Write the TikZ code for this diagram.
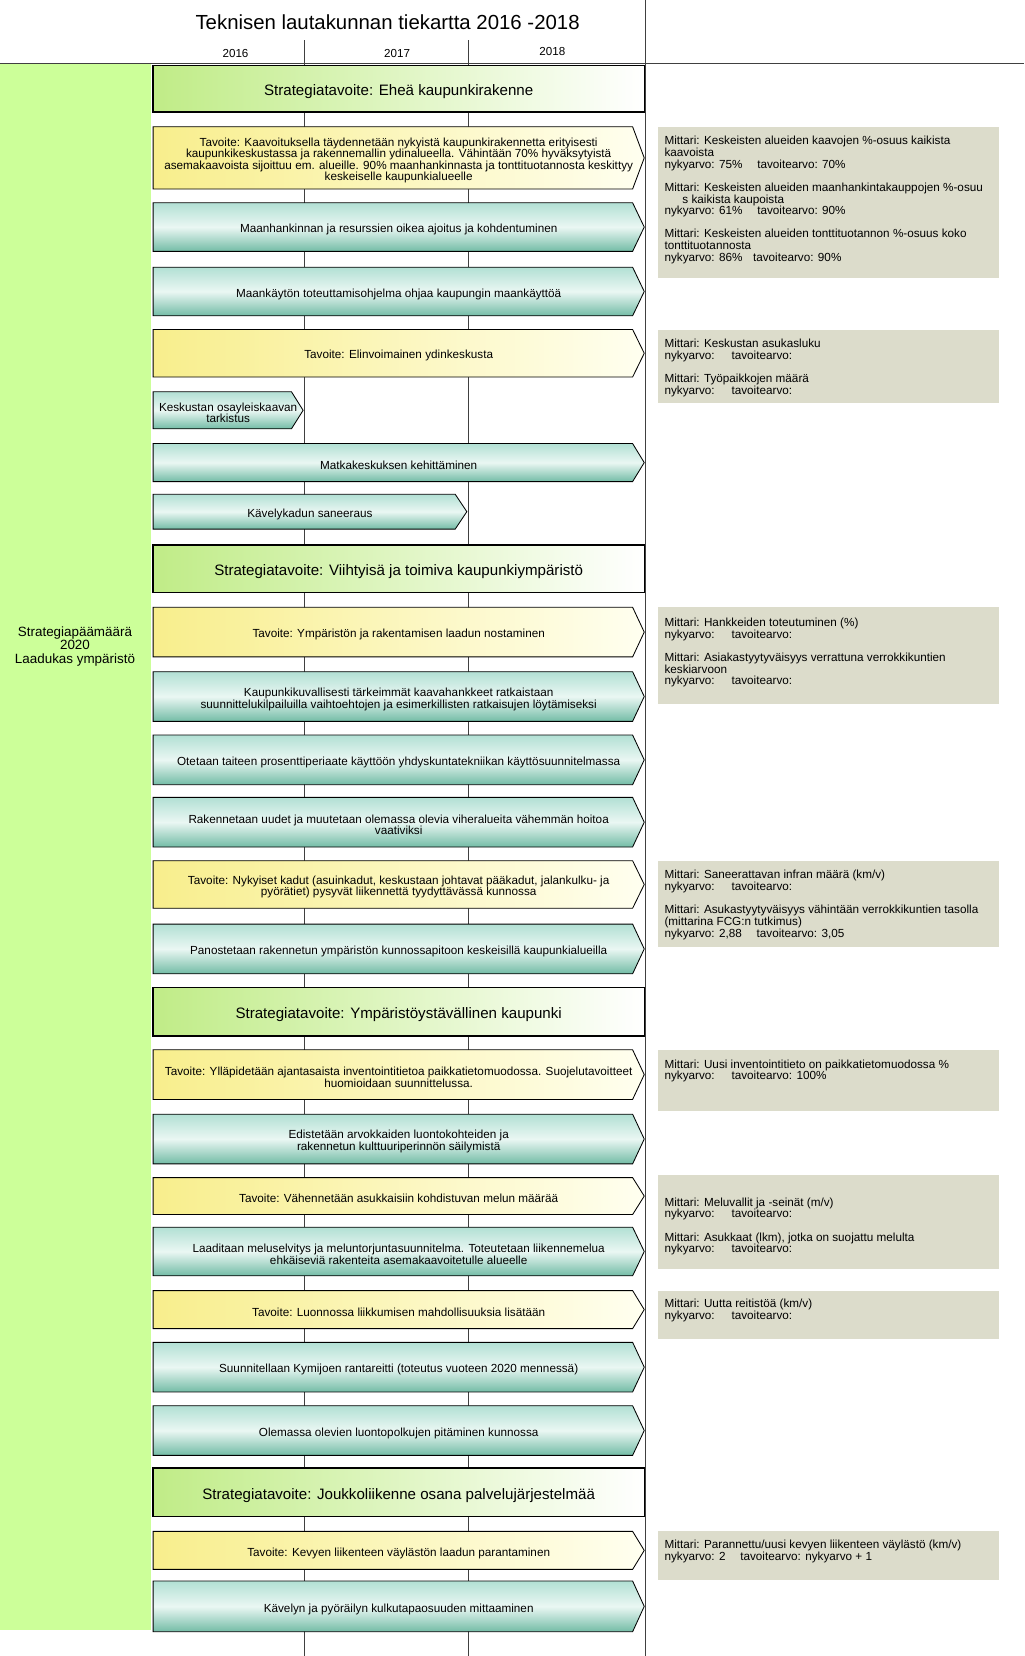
\documentclass[tikz,border=0pt]{standalone}
\usepackage{fontspec}
\setmainfont{Liberation Sans}

\definecolor{colgreen}{RGB}{204,255,153}
\definecolor{stratgreen}{RGB}{192,236,135}
\definecolor{goalyellow}{RGB}{248,238,140}
\definecolor{goalpale}{RGB}{255,255,240}
\definecolor{tealtop}{RGB}{178,224,212}
\definecolor{tealmid}{RGB}{234,247,243}
\definecolor{tealbottom}{RGB}{115,188,166}
\definecolor{mgray}{RGB}{220,220,203}

\tikzset{
  grid/.style={black!75, line width=0.6pt},
  strat/.style={draw, line width=1.3pt, left color=stratgreen, right color=white},
  goal/.style={draw, line width=0.8pt, left color=goalyellow, right color=goalpale},
  task/.style={draw, line width=0.8pt, top color=tealtop, bottom color=tealbottom, middle color=tealmid},
  lbl/.style={font=\fontsize{11.1}{11}\selectfont, align=center, inner sep=0pt, yshift=-2.5pt},
  stratlbl/.style={font=\fontsize{14.3}{16}\selectfont, inner sep=0pt, yshift=-3pt},
  mbox/.style={fill=mgray},
  mtext/.style={anchor=north west, align=left, inner sep=0pt, yshift=-2pt, font=\fontsize{11.1}{11}\selectfont}
}

% arrow bar: name, style, tip x, top y, bottom y, text
\newcommand{\roadbar}[6]{%
  \draw[#2] (145,#4) -- ({#3-11},#4) -- (#3,{(#4+#5)/2}) -- ({#3-11},#5) -- (145,#5) -- cycle;
  \node[lbl] (#1) at ({(145+#3)/2},{(#4+#5)/2}) {#6};}
% strategy bar: name, top y, bottom y, text
\newcommand{\stratbar}[4]{%
  \draw[strat] (145,#2) rectangle (610,#3) node[pos=.5, stratlbl] (#1) {#4};}

\begin{document}
\begin{tikzpicture}[x=1pt,y=-1pt]
  \useasboundingbox (0,0) rectangle (970,1568);
  \fill[white] (0,0) rectangle (970,1568);

  % header
  \node[font=\fontsize{19.3}{22}\selectfont] (title) at (367,21) {Teknisen lautakunnan tiekartta 2016 -2018};
  \node[font=\fontsize{11}{11}\selectfont] (y2016) at (223,51) {2016};
  \node[font=\fontsize{11}{11}\selectfont] (y2017) at (376,51) {2017};
  \node[font=\fontsize{11}{11}\selectfont] (y2018) at (523,49) {2018};

  % strategy column and grid
  \fill[colgreen] (0,60) rectangle (143,1543);
  \node[align=center, font=\fontsize{12.7}{12.5}\selectfont] (goal) at (71,612) {Strategiapäämäärä\\2020\\Laadukas ympäristö};
  \draw[grid] (288,38) -- (288,1568);
  \draw[grid] (443,38) -- (443,1568);
  \draw[grid] (611,0) -- (611,1568);
  \draw[grid] (0,60) -- (970,60);

  % Eheä kaupunkirakenne
  \stratbar{eheae}{62}{106}{Strategiatavoite: Eheä kaupunkirakenne}
  \roadbar{kaavoitus}{goal}{610}{120}{179}{Tavoite: Kaavoituksella täydennetään nykyistä kaupunkirakennetta erityisesti\\kaupunkikeskustassa ja rakennemallin ydinalueella. Vähintään 70\% hyväksytyistä\\asemakaavoista sijoittuu em. alueille. 90\% maanhankinnasta ja tonttituotannosta keskittyy\\keskeiselle kaupunkialueelle}
  \roadbar{maanhankinta}{task}{610}{192}{238}{Maanhankinnan ja resurssien oikea ajoitus ja kohdentuminen}
  \roadbar{maankaytto}{task}{610}{253}{299}{Maankäytön toteuttamisohjelma ohjaa kaupungin maankäyttöä}
  \roadbar{elinvoima}{goal}{610}{312}{357}{Tavoite: Elinvoimainen ydinkeskusta}
  \roadbar{osayleiskaava}{task}{287}{371}{406}{Keskustan osayleiskaavan\\tarkistus}
  \roadbar{matkakeskus}{task}{610}{420}{456}{Matkakeskuksen kehittäminen}
  \roadbar{kavelykatu}{task}{442}{468}{501}{Kävelykadun saneeraus}

  % Viihtyisä ja toimiva kaupunkiympäristö
  \stratbar{viihtyisa}{516}{561}{Strategiatavoite: Viihtyisä ja toimiva kaupunkiympäristö}
  \roadbar{laatu}{goal}{610}{575}{622}{Tavoite: Ympäristön ja rakentamisen laadun nostaminen}
  \roadbar{kilpailu}{task}{610}{636}{683}{Kaupunkikuvallisesti tärkeimmät kaavahankkeet ratkaistaan\\suunnittelukilpailuilla vaihtoehtojen ja esimerkillisten ratkaisujen löytämiseksi}
  \roadbar{taide}{task}{610}{696}{743}{Otetaan taiteen prosenttiperiaate käyttöön yhdyskuntatekniikan käyttösuunnitelmassa}
  \roadbar{viheralue}{task}{610}{755}{802}{Rakennetaan uudet ja muutetaan olemassa olevia viheralueita vähemmän hoitoa\\vaativiksi}
  \roadbar{kadut}{goal}{610}{815}{860}{Tavoite: Nykyiset kadut (asuinkadut, keskustaan johtavat pääkadut, jalankulku- ja\\pyörätiet) pysyvät liikennettä tyydyttävässä kunnossa}
  \roadbar{kunnossapito}{task}{610}{875}{922}{Panostetaan rakennetun ympäristön kunnossapitoon keskeisillä kaupunkialueilla}

  % Ympäristöystävällinen kaupunki
  \stratbar{ymparisto}{935}{981}{Strategiatavoite: Ympäristöystävällinen kaupunki}
  \roadbar{inventointi}{goal}{610}{994}{1041}{Tavoite: Ylläpidetään ajantasaista inventointitietoa paikkatietomuodossa. Suojelutavoitteet\\huomioidaan suunnittelussa.}
  \roadbar{luontokohde}{task}{610}{1055}{1102}{Edistetään arvokkaiden luontokohteiden ja\\rakennetun kulttuuriperinnön säilymistä}
  \roadbar{melu}{goal}{610}{1115}{1150}{Tavoite: Vähennetään asukkaisiin kohdistuvan melun määrää}
  \roadbar{meluselvitys}{task}{610}{1162}{1208}{Laaditaan meluselvitys ja meluntorjuntasuunnitelma. Toteutetaan liikennemelua\\ehkäiseviä rakenteita asemakaavoitetulle alueelle}
  \roadbar{luonto}{goal}{610}{1222}{1258}{Tavoite: Luonnossa liikkumisen mahdollisuuksia lisätään}
  \roadbar{rantareitti}{task}{610}{1271}{1318}{Suunnitellaan Kymijoen rantareitti (toteutus vuoteen 2020 mennessä)}
  \roadbar{luontopolku}{task}{610}{1331}{1378}{Olemassa olevien luontopolkujen pitäminen kunnossa}

  % Joukkoliikenne
  \stratbar{joukkoliikenne}{1390}{1436}{Strategiatavoite: Joukkoliikenne osana palvelujärjestelmää}
  \roadbar{kevytliikenne}{goal}{610}{1450}{1486}{Tavoite: Kevyen liikenteen väylästön laadun parantaminen}
  \roadbar{kulkutapa}{task}{610}{1497}{1545}{Kävelyn ja pyöräilyn kulkutapaosuuden mittaaminen}

  % mittarit
  \fill[mbox] (623,120) rectangle (946,263);
  \node[mtext] (mA) at (629,127) {Mittari: Keskeisten alueiden kaavojen \%-osuus kaikista\\kaavoista\\nykyarvo: 75\%\hspace{14pt}tavoitearvo: 70\%\\[11pt]
    Mittari: Keskeisten alueiden maanhankintakauppojen \%-osuu\\\hspace*{17pt}s kaikista kaupoista\\nykyarvo: 61\%\hspace{14pt}tavoitearvo: 90\%\\[11pt]
    Mittari: Keskeisten alueiden tonttituotannon \%-osuus koko\\tonttituotannosta\\nykyarvo: 86\%\hspace{10pt}tavoitearvo: 90\%};
  \fill[mbox] (623,312) rectangle (946,382);
  \node[mtext] (mB) at (629,319) {Mittari: Keskustan asukasluku\\nykyarvo:\hspace{16pt}tavoitearvo:\\[11pt]
    Mittari: Työpaikkojen määrä\\nykyarvo:\hspace{16pt}tavoitearvo:};
  \fill[mbox] (623,575) rectangle (946,667);
  \node[mtext] (mC) at (629,583) {Mittari: Hankkeiden toteutuminen (\%)\\nykyarvo:\hspace{16pt}tavoitearvo:\\[11pt]
    Mittari: Asiakastyytyväisyys verrattuna verrokkikuntien\\keskiarvoon\\nykyarvo:\hspace{16pt}tavoitearvo:};
  \fill[mbox] (623,815) rectangle (946,897);
  \node[mtext] (mD) at (629,822) {Mittari: Saneerattavan infran määrä (km/v)\\nykyarvo:\hspace{16pt}tavoitearvo:\\[11pt]
    Mittari: Asukastyytyväisyys vähintään verrokkikuntien tasolla\\(mittarina FCG:n tutkimus)\\nykyarvo: 2,88\hspace{14pt}tavoitearvo: 3,05};
  \fill[mbox] (623,994) rectangle (946,1052);
  \node[mtext] (mE) at (629,1001) {Mittari: Uusi inventointitieto on paikkatietomuodossa \%\\nykyarvo:\hspace{16pt}tavoitearvo: 100\%};
  \fill[mbox] (623,1113) rectangle (946,1202);
  \node[mtext] (mF) at (629,1132) {Mittari: Meluvallit ja -seinät (m/v)\\nykyarvo:\hspace{16pt}tavoitearvo:\\[11pt]
    Mittari: Asukkaat (lkm), jotka on suojattu melulta\\nykyarvo:\hspace{16pt}tavoitearvo:};
  \fill[mbox] (623,1222) rectangle (946,1268);
  \node[mtext] (mG) at (629,1228) {Mittari: Uutta reitistöä (km/v)\\nykyarvo:\hspace{16pt}tavoitearvo:};
  \fill[mbox] (623,1450) rectangle (946,1496);
  \node[mtext] (mH) at (629,1456) {Mittari: Parannettu/uusi kevyen liikenteen väylästö (km/v)\\nykyarvo: 2\hspace{14pt}tavoitearvo: nykyarvo + 1};
\end{tikzpicture}
\end{document}
